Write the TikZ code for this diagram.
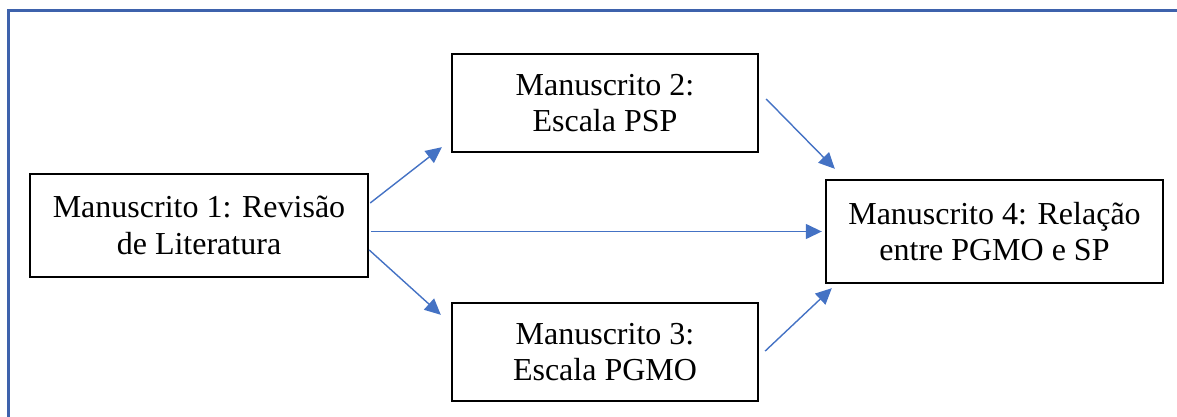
\documentclass[tikz,border=0pt]{standalone}
\usepackage{fontspec}
\setmainfont{Liberation Serif}
\usetikzlibrary{arrows.meta}
\definecolor{framec}{RGB}{62,98,172}
\definecolor{arrc}{RGB}{68,114,196}
\tikzset{
  mbox/.style={draw=black, line width=2.4pt, align=center, inner sep=0pt,
    font=\fontsize{32}{36.5}\selectfont},
  arr/.style={draw=arrc, line width=1.4pt, -{Triangle[length=16pt,width=15pt]}}
}
\begin{document}
\begin{tikzpicture}[x=1pt,y=-1pt]
\useasboundingbox (0,0) rectangle (1177,417);
\draw[framec, line width=3pt] (8,420) -- (8,11) -- (1180,11);
\node[mbox, minimum width=338pt, minimum height=103pt] (b1) at (199,225.5) {Manuscrito 1: Revisão\\de Literatura};
\node[mbox, minimum width=306pt, minimum height=98pt] (b2) at (605,103) {Manuscrito 2:\\Escala PSP};
\node[mbox, minimum width=306pt, minimum height=98pt] (b3) at (605,352) {Manuscrito 3:\\Escala PGMO};
\node[mbox, minimum width=337pt, minimum height=103pt] (b4) at (994.5,231.5) {Manuscrito 4: Relação\\entre PGMO e SP};
\coordinate (s2) at ([xshift=1pt,yshift=22.5pt]b1.east);
\coordinate (e2) at ([xshift=-9pt,yshift=6pt]b2.south west);
\coordinate (s4) at ([xshift=2pt]b1.east |- b4.west);
\coordinate (e4) at ([xshift=-3pt]b4.west);
\coordinate (s3) at ([xshift=0pt,yshift=-24.5pt]b1.east);
\coordinate (e3) at ([xshift=-10pt,yshift=-13pt]b3.north west);
\coordinate (s24) at ([xshift=7pt,yshift=4pt]b2.east);
\coordinate (e24) at ([xshift=10pt,yshift=10pt]b4.north west);
\coordinate (s34) at ([xshift=6pt,yshift=1pt]b3.east);
\coordinate (e34) at ([xshift=7pt,yshift=-4pt]b4.south west);
\draw[arr] (s2) -- (e2);
\draw[arr] (s4) -- (e4);
\draw[arr] (s3) -- (e3);
\draw[arr] (s24) -- (e24);
\draw[arr] (s34) -- (e34);
\end{tikzpicture}
\end{document}
